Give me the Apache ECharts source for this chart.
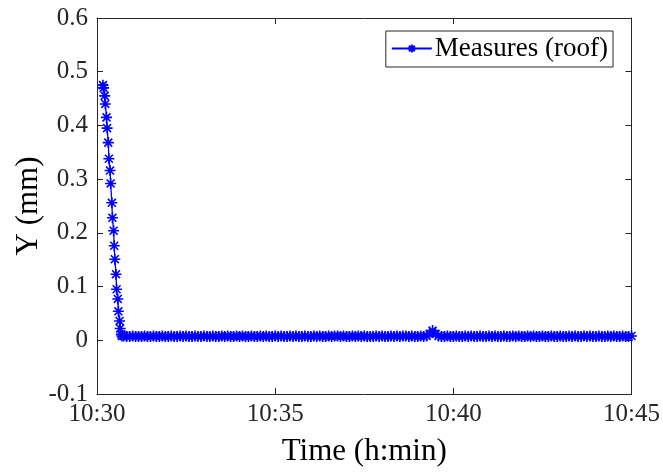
<!DOCTYPE html>
<html>
<head>
<meta charset="utf-8">
<script src="https://cdn.jsdelivr.net/npm/echarts@6/dist/echarts.min.js"></script>
<style>html,body{margin:0;padding:0;background:#fff;}#c{width:663px;height:474px;}</style>
</head>
<body>
<div id="c"></div>
<script>
// seconds after 10:30:00
var dropTimes = [10,11,13,14,16,17,19,20,22,23,25,26,28,29,30,32,33,35,36,38,39,41,42];
var dropValues = [0.475,0.470,0.455,0.440,0.415,0.395,0.368,0.338,0.316,0.292,0.256,0.228,0.204,0.176,0.151,0.123,0.095,0.077,0.054,0.036,0.022,0.011,0.008];
// flat part, sampled every 5 s from 45 s to 900 s
var flatStart = 45, flatStep = 5;
var flatValues = [
0.008,0.007,0.007,0.008,0.007,0.007,0.007,0.008,0.007,0.007,0.008,0.007,
0.007,0.008,0.007,0.007,0.008,0.007,0.007,0.008,0.007,0.008,0.007,0.007,
0.008,0.007,0.007,0.008,0.007,0.007,0.008,0.007,0.007,0.008,0.007,0.008,
0.007,0.007,0.008,0.007,0.008,0.007,0.007,0.008,0.007,0.007,0.008,0.007,
0.008,0.007,0.007,0.008,0.007,0.008,0.007,0.007,0.008,0.007,0.008,0.007,
0.007,0.008,0.007,0.007,0.008,0.007,0.008,0.007,0.007,0.008,0.007,0.008,
0.008,0.007,0.008,0.007,0.007,0.008,0.007,0.008,0.007,0.008,0.007,0.007,
0.007,0.008,0.007,0.008,0.007,0.007,0.008,0.007,0.008,0.007,0.008,0.008,
0.007,0.008,0.007,0.007,0.008,0.007,0.008,0.012,0.018,0.012,0.008,0.007,
0.007,0.008,0.007,0.007,0.008,0.007,0.007,0.008,0.007,0.008,0.007,0.007,
0.008,0.007,0.007,0.008,0.007,0.008,0.007,0.007,0.008,0.007,0.007,0.008,
0.007,0.008,0.007,0.007,0.008,0.007,0.008,0.007,0.007,0.008,0.007,0.007,
0.008,0.007,0.007,0.008,0.007,0.007,0.008,0.007,0.008,0.007,0.007,0.008,
0.007,0.008,0.007,0.007,0.008,0.007,0.007,0.008,0.007,0.008,0.007,0.007,
0.008,0.007,0.007,0.008
];
var xTickLabels = ['10:30','10:35','10:40','10:45'];
var seriesName = 'Measures (roof)';

var data = [];
for (var i = 0; i < dropTimes.length; i++) data.push([dropTimes[i], dropValues[i]]);
for (var j = 0; j < flatValues.length; j++) data.push([flatStart + flatStep * j, flatValues[j]]);

var FONT = 'Liberation Serif';
var AX = '#262626';
var star = 'path://M0,-5L0,5M-5,0L5,0M-3.6,-3.6L3.6,3.6M-3.6,3.6L3.6,-3.6';

var chart = echarts.init(document.getElementById('c'), null, {renderer: 'canvas'});
var baseX = {
  type: 'value', min: 0, max: 900, interval: 300,
  axisLine: {show: true, onZero: false, lineStyle: {color: AX, width: 1}},
  axisTick: {show: true, inside: true, length: 6, lineStyle: {color: AX}},
  splitLine: {show: false}
};
var baseY = {
  type: 'value', min: -0.1, max: 0.6, interval: 0.1,
  axisLine: {show: true, onZero: false, lineStyle: {color: AX, width: 1}},
  axisTick: {show: true, inside: true, length: 6, lineStyle: {color: AX}},
  splitLine: {show: false}
};
chart.setOption({
  animation: false,
  backgroundColor: '#fff',
  grid: {left: 97, right: 31, top: 18, bottom: 80, containLabel: false},
  legend: {
    show: true, right: 50, top: 31,
    data: [seriesName],
    backgroundColor: '#fff', borderColor: '#262626', borderWidth: 1,
    padding: [4, 5, 5, 5], itemWidth: 40, itemHeight: 10, itemGap: 0,
    textStyle: {fontFamily: FONT, fontSize: 27, color: '#000', padding: [0, 0, 0, -2]}
  },
  xAxis: [
    Object.assign({}, baseX, {
      position: 'bottom',
      name: 'Time (h:min)', nameLocation: 'middle', nameGap: 42, nameMoveOverlap: false,
      nameTextStyle: {fontFamily: FONT, fontSize: 31, color: '#000'},
      axisLabel: {show: true, margin: 8, fontFamily: FONT, fontSize: 25, color: AX,
        formatter: function (v) { return xTickLabels[Math.round(v / 300)]; }}
    }),
    Object.assign({}, baseX, {position: 'top', axisLabel: {show: false}})
  ],
  yAxis: [
    Object.assign({}, baseY, {
      position: 'left',
      name: 'Y (mm)', nameLocation: 'middle', nameGap: 53, nameMoveOverlap: false,
      nameTextStyle: {fontFamily: FONT, fontSize: 31, color: '#000'},
      axisLabel: {show: true, margin: 9, fontFamily: FONT, fontSize: 25, color: AX,
        formatter: function (v) { return String(Number(v.toFixed(1))); }}
    }),
    Object.assign({}, baseY, {position: 'right', axisLabel: {show: false}})
  ],
  series: [{
    name: seriesName, type: 'line', xAxisIndex: 0, yAxisIndex: 0,
    data: data,
    showAllSymbol: true,
    symbol: star, symbolSize: 11,
    lineStyle: {color: '#0000ff', width: 1.3},
    itemStyle: {color: '#0000ff', borderColor: '#0000ff', borderWidth: 1.6},
    emphasis: {disabled: true}
  }]
});
</script>
</body>
</html>
